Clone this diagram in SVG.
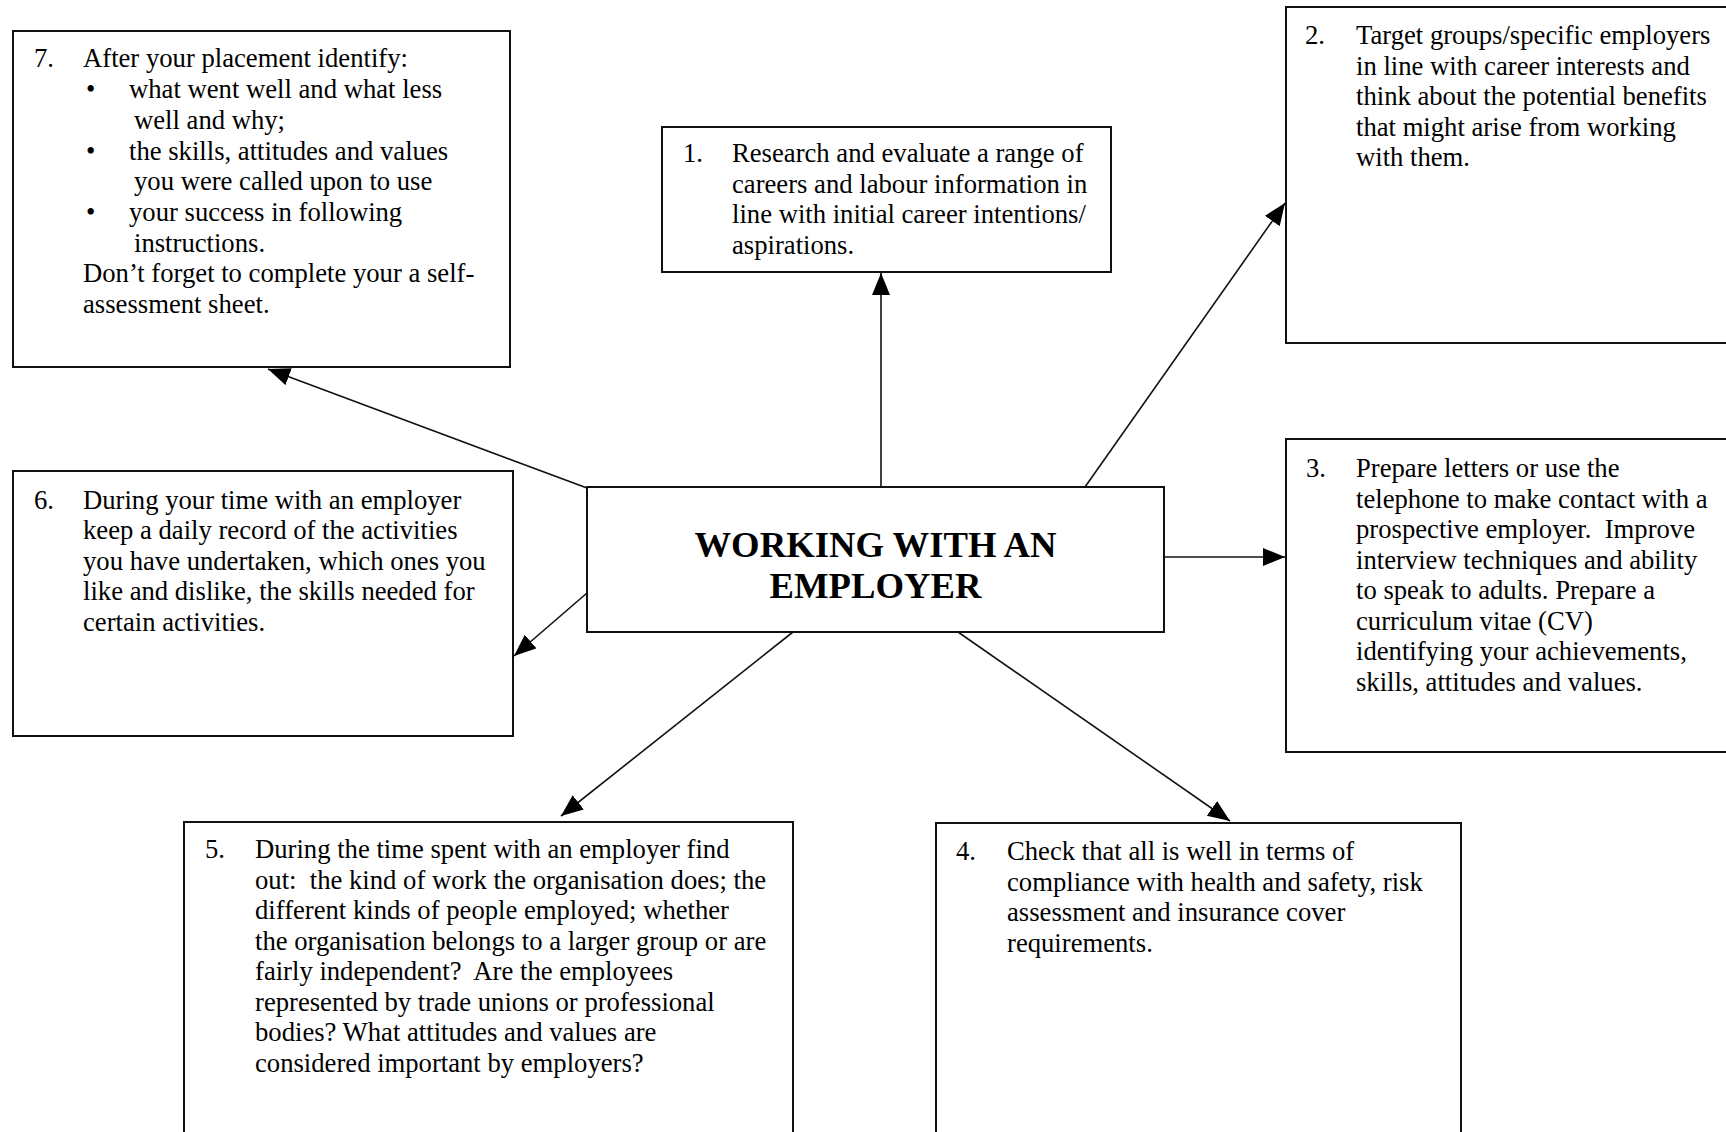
<svg xmlns="http://www.w3.org/2000/svg" width="1726" height="1132" viewBox="0 0 1726 1132">
<defs>
<style>
.box{fill:#fff;stroke:#111;stroke-width:2}
.t{font-family:"Liberation Serif","Times New Roman",serif;font-size:26.67px;fill:#000;white-space:pre}
.title{font-family:"Liberation Serif","Times New Roman",serif;font-size:36.7px;font-weight:bold;fill:#000;text-anchor:middle}
.c{fill:none;stroke:#111;stroke-width:1.6}
</style>
<marker id="ah" markerUnits="userSpaceOnUse" markerWidth="24" markerHeight="20" refX="22" refY="9" orient="auto">
<path d="M0,0 L22,9 L0,18 z" fill="#000"/>
</marker>
</defs>
<rect width="1726" height="1132" fill="#fff"/>

<g id="connectors">
<line class="c" x1="881" y1="487" x2="881" y2="273" marker-end="url(#ah)"/>
<line class="c" x1="1085" y1="487" x2="1285" y2="203" marker-end="url(#ah)"/>
<line class="c" x1="1164" y1="557" x2="1285" y2="557" marker-end="url(#ah)"/>
<line class="c" x1="958" y1="632" x2="1230" y2="821" marker-end="url(#ah)"/>
<line class="c" x1="793" y1="632" x2="561" y2="816" marker-end="url(#ah)"/>
<line class="c" x1="587" y1="593" x2="514" y2="656" marker-end="url(#ah)"/>
<line class="c" x1="587" y1="488" x2="268" y2="369" marker-end="url(#ah)"/>
</g>

<g id="center">
<rect class="box" x="587" y="487" width="577" height="145"/>
<text class="title" x="875.5" y="557">WORKING WITH AN</text>
<text class="title" x="875.5" y="598">EMPLOYER</text>
</g>

<g id="node1">
<rect class="box" x="662" y="127" width="449" height="145"/>
<text class="t" x="683" y="162">1.</text>
<text class="t" x="732" y="162">Research and evaluate a range of</text>
<text class="t" x="732" y="192.5">careers and labour information in</text>
<text class="t" x="732" y="223">line with initial career intentions/</text>
<text class="t" x="732" y="253.5">aspirations.</text>
</g>

<g id="node2">
<rect class="box" x="1286" y="7" width="460" height="336"/>
<text class="t" x="1305" y="44">2.</text>
<text class="t" x="1356" y="44">Target groups/specific employers</text>
<text class="t" x="1356" y="74.5">in line with career interests and</text>
<text class="t" x="1356" y="105">think about the potential benefits</text>
<text class="t" x="1356" y="135.5">that might arise from working</text>
<text class="t" x="1356" y="166">with them.</text>
</g>

<g id="node3">
<rect class="box" x="1286" y="439" width="460" height="313"/>
<text class="t" x="1306" y="477">3.</text>
<text class="t" x="1356" y="477">Prepare letters or use the</text>
<text class="t" x="1356" y="507.5">telephone to make contact with a</text>
<text class="t" x="1356" y="538">prospective employer.  Improve</text>
<text class="t" x="1356" y="568.5">interview techniques and ability</text>
<text class="t" x="1356" y="599">to speak to adults. Prepare a</text>
<text class="t" x="1356" y="629.5">curriculum vitae (CV)</text>
<text class="t" x="1356" y="660">identifying your achievements,</text>
<text class="t" x="1356" y="690.5">skills, attitudes and values.</text>
</g>

<g id="node4">
<rect class="box" x="936" y="823" width="525" height="330"/>
<text class="t" x="956" y="860">4.</text>
<text class="t" x="1007" y="860">Check that all is well in terms of</text>
<text class="t" x="1007" y="890.5">compliance with health and safety, risk</text>
<text class="t" x="1007" y="921">assessment and insurance cover</text>
<text class="t" x="1007" y="951.5">requirements.</text>
</g>

<g id="node5">
<rect class="box" x="184" y="822" width="609" height="330"/>
<text class="t" x="205" y="858">5.</text>
<text class="t" x="255" y="858">During the time spent with an employer find</text>
<text class="t" x="255" y="888.5">out:  the kind of work the organisation does; the</text>
<text class="t" x="255" y="919">different kinds of people employed; whether</text>
<text class="t" x="255" y="949.5">the organisation belongs to a larger group or are</text>
<text class="t" x="255" y="980">fairly independent?  Are the employees</text>
<text class="t" x="255" y="1010.5">represented by trade unions or professional</text>
<text class="t" x="255" y="1041">bodies? What attitudes and values are</text>
<text class="t" x="255" y="1071.5">considered important by employers?</text>
</g>

<g id="node6">
<rect class="box" x="13" y="471" width="500" height="265"/>
<text class="t" x="34" y="508.5">6.</text>
<text class="t" x="83" y="508.5">During your time with an employer</text>
<text class="t" x="83" y="539">keep a daily record of the activities</text>
<text class="t" x="83" y="569.5">you have undertaken, which ones you</text>
<text class="t" x="83" y="600">like and dislike, the skills needed for</text>
<text class="t" x="83" y="630.5">certain activities.</text>
</g>

<g id="node7">
<rect class="box" x="13" y="31" width="497" height="336"/>
<text class="t" x="34" y="67">7.</text>
<text class="t" x="83" y="67">After your placement identify:</text>
<text class="t" x="86" y="98">•</text>
<text class="t" x="129" y="98">what went well and what less</text>
<text class="t" x="134" y="128.5">well and why;</text>
<text class="t" x="86" y="159.5">•</text>
<text class="t" x="129" y="159.5">the skills, attitudes and values</text>
<text class="t" x="134" y="190">you were called upon to use</text>
<text class="t" x="86" y="221">•</text>
<text class="t" x="129" y="221">your success in following</text>
<text class="t" x="134" y="251.5">instructions.</text>
<text class="t" x="83" y="282">Don’t forget to complete your a self-</text>
<text class="t" x="83" y="312.5">assessment sheet.</text>
</g>
</svg>
